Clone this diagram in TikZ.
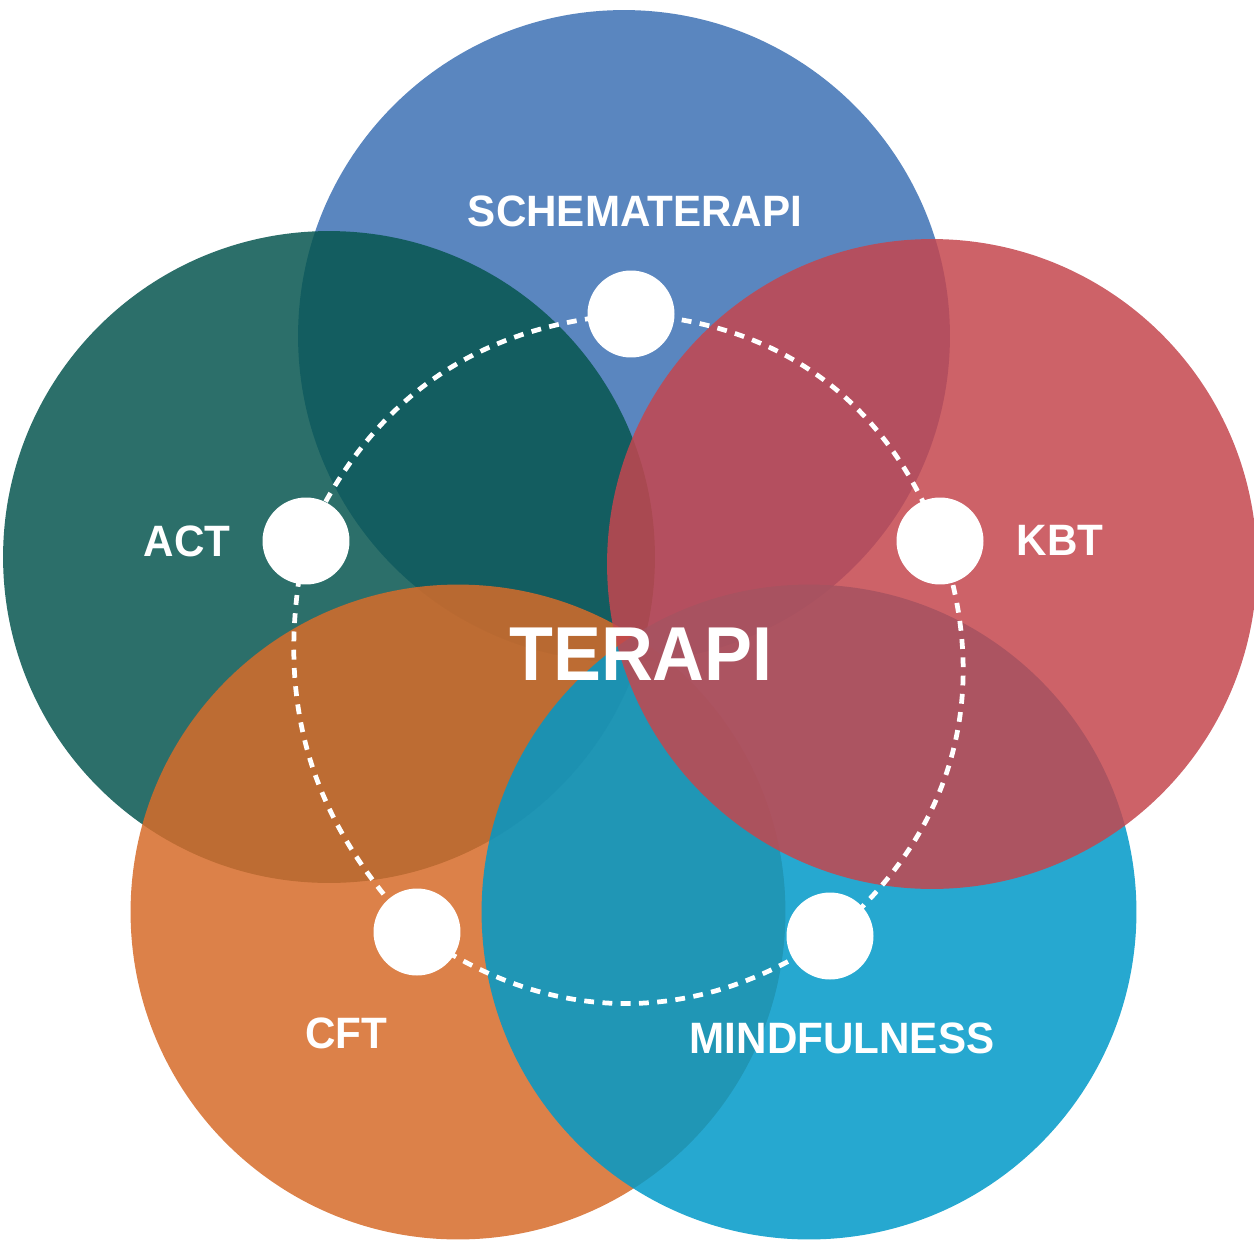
\documentclass[tikz,border=0pt]{standalone}
\usepackage{fontspec}
\setmainfont{Liberation Sans}
\definecolor{cblue}{RGB}{61,113,180}
\definecolor{cteal}{RGB}{7,86,80}
\definecolor{cred}{RGB}{196,70,78}
\definecolor{corange}{RGB}{214,107,41}
\definecolor{ccyan}{RGB}{0,153,200}
\begin{document}
\begin{tikzpicture}[x=0.02cm,y=-0.02cm,
  venn/.style={circle, inner sep=0, draw=none, fill opacity=0.85},
  dot/.style={circle, fill=white, inner sep=0, minimum size=1.74cm},
  link/.style={draw=white, line width=2.7pt, dash pattern=on 5.6pt off 4.8pt},
  lbl/.style={text=white, font=\bfseries\fontsize{25}{30}\selectfont, inner sep=0, xscale=0.96},
  big/.style={text=white, font=\bfseries\fontsize{43.5}{50}\selectfont, inner sep=0, xscale=0.94}]
\useasboundingbox (0,0) rectangle (1254,1254);
% large circles
\node[venn, fill=cblue, minimum size=13.04cm] (cS) at (624,336) {};
\node[venn, fill=cteal, minimum size=13.04cm] (cA) at (329,557) {};
\node[venn, fill=corange, minimum size=13.1cm] (cC) at (458,912) {};
\node[venn, fill=ccyan, minimum size=13.1cm] (cM) at (809,912) {};
\node[venn, fill=cred, minimum size=13.0cm] (cK) at (932,564) {};
% dot centres
\coordinate (pS) at (631,314);
\coordinate (pA) at (306,541);
\coordinate (pK) at (940,541);
\coordinate (pC) at (417,932);
\coordinate (pM) at (830,936);
% dashed ring
\draw[link] (pS) to[bend right=31] (pA);
\draw[link] (pA) to[bend right=28] (pC);
\draw[link] (pC) to[bend right=35] (pM);
\draw[link] (pM) to[bend right=35] (pK);
\draw[link] (pK) to[bend right=33] (pS);
% white dots
\node[dot] (dS) at (pS) {};
\node[dot] (dA) at (pA) {};
\node[dot] (dK) at (pK) {};
\node[dot] (dC) at (pC) {};
\node[dot] (dM) at (pM) {};
% labels
\node[lbl] (tS) at (635,211) {SCHEMATERAPI};
\node[lbl] (tA) at (187,541) {ACT};
\node[lbl] (tK) at (1060,540) {KBT};
\node[lbl] (tC) at (346,1033) {CFT};
\node[lbl] (tM) at (842,1038) {MINDFULNESS};
\node[big] (tT) at (641,654) {TERAPI};
\end{tikzpicture}
\end{document}
